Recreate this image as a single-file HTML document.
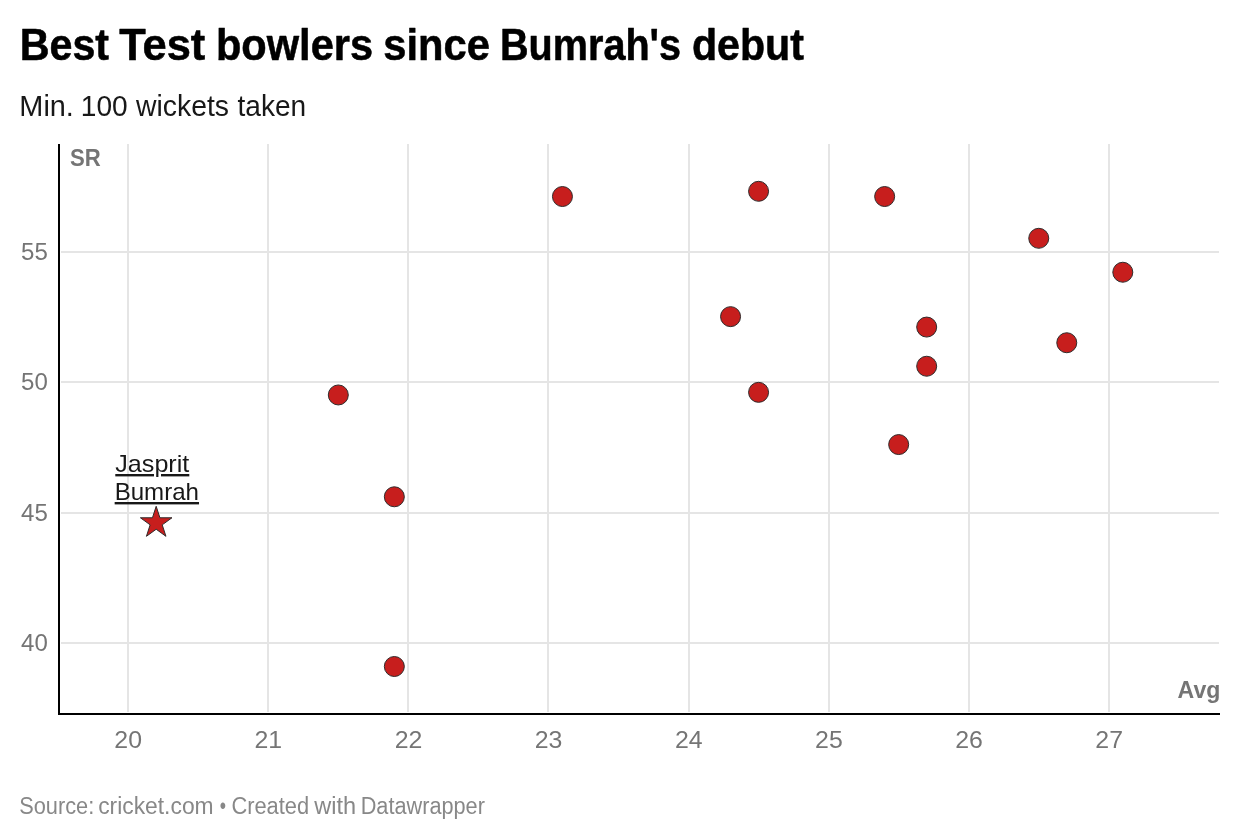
<!DOCTYPE html>
<html lang="en">
<head>
<meta charset="utf-8">
<title>Best Test bowlers since Bumrah's debut</title>
<style>
html,body{margin:0;padding:0;background:#fff;}
body{width:1240px;height:840px;overflow:hidden;font-family:"Liberation Sans",sans-serif;}
svg{display:block;will-change:transform;}
text{font-family:"Liberation Sans",sans-serif;}
.title{font-weight:700;font-size:45.2px;fill:#000;stroke:#000;stroke-width:0.55px;stroke-linejoin:round;}
.sub{font-size:28.8px;fill:#181818;}
.tick{font-size:24px;fill:#757575;}
.axl{font-size:24.5px;font-weight:700;fill:#757575;}
.lab{font-size:24px;fill:#181818;}
.foot{font-size:23px;fill:#888;}
.grid{fill:#e5e5e5;}
.pt{fill:#c71e1d;stroke:#2f2b2b;stroke-width:1;}
</style>
</head>
<body>
<svg width="1240" height="840" viewBox="0 0 1240 840">
<rect width="1240" height="840" fill="#ffffff"/>
<text class="title" y="60"><tspan x="19.81" textLength="89.28" lengthAdjust="spacingAndGlyphs">Best</tspan> <tspan x="119.18" textLength="86.07" lengthAdjust="spacingAndGlyphs">Test</tspan> <tspan x="215.98" textLength="157.13" lengthAdjust="spacingAndGlyphs">bowlers</tspan> <tspan x="383.22" textLength="106.62" lengthAdjust="spacingAndGlyphs">since</tspan> <tspan x="500.02" textLength="181.02" lengthAdjust="spacingAndGlyphs">Bumrah's</tspan> <tspan x="691.92" textLength="112.06" lengthAdjust="spacingAndGlyphs">debut</tspan></text>
<text class="sub" y="116"><tspan x="19.32" textLength="54.59" lengthAdjust="spacingAndGlyphs">Min.</tspan> <tspan x="80.77" textLength="46.92" lengthAdjust="spacingAndGlyphs">100</tspan> <tspan x="136.06" textLength="93.00" lengthAdjust="spacingAndGlyphs">wickets</tspan> <tspan x="237.53" textLength="68.69" lengthAdjust="spacingAndGlyphs">taken</tspan></text>
<g class="grid">
<rect x="127" y="144" width="2" height="568"/>
<rect x="267" y="144" width="2" height="568"/>
<rect x="407" y="144" width="2" height="568"/>
<rect x="547" y="144" width="2" height="568"/>
<rect x="688" y="144" width="2" height="568"/>
<rect x="828" y="144" width="2" height="568"/>
<rect x="968" y="144" width="2" height="568"/>
<rect x="1108" y="144" width="2" height="568"/>
<rect x="61" y="251" width="1158" height="2"/>
<rect x="61" y="381" width="1158" height="2"/>
<rect x="61" y="512" width="1158" height="2"/>
<rect x="61" y="642" width="1158" height="2"/>
</g>
<rect x="58" y="144" width="2" height="571" fill="#000"/>
<rect x="58" y="713" width="1162" height="2" fill="#000"/>
<text class="tick" x="21.01" y="259.6" textLength="26.76" lengthAdjust="spacingAndGlyphs">55</text>
<text class="tick" x="21.01" y="389.6" textLength="26.76" lengthAdjust="spacingAndGlyphs">50</text>
<text class="tick" x="21.01" y="520.6" textLength="26.76" lengthAdjust="spacingAndGlyphs">45</text>
<text class="tick" x="21.01" y="650.6" textLength="26.76" lengthAdjust="spacingAndGlyphs">40</text>
<text class="tick" x="114.37" y="748" textLength="27.67" lengthAdjust="spacingAndGlyphs">20</text>
<text class="tick" x="254.51" y="748" textLength="27.67" lengthAdjust="spacingAndGlyphs">21</text>
<text class="tick" x="394.65" y="748" textLength="27.67" lengthAdjust="spacingAndGlyphs">22</text>
<text class="tick" x="534.79" y="748" textLength="27.67" lengthAdjust="spacingAndGlyphs">23</text>
<text class="tick" x="674.93" y="748" textLength="27.67" lengthAdjust="spacingAndGlyphs">24</text>
<text class="tick" x="815.07" y="748" textLength="27.67" lengthAdjust="spacingAndGlyphs">25</text>
<text class="tick" x="955.21" y="748" textLength="27.67" lengthAdjust="spacingAndGlyphs">26</text>
<text class="tick" x="1095.35" y="748" textLength="27.67" lengthAdjust="spacingAndGlyphs">27</text>
<text class="axl" y="165.5"><tspan x="69.92" textLength="30.76" lengthAdjust="spacingAndGlyphs">SR</tspan></text>
<text class="axl" y="698"><tspan x="1177.58" textLength="42.80" lengthAdjust="spacingAndGlyphs">Avg</tspan></text>
<g class="pt">
<circle cx="338.30" cy="394.96" r="10"/>
<circle cx="394.34" cy="496.78" r="10"/>
<circle cx="394.34" cy="666.50" r="10"/>
<circle cx="562.44" cy="196.52" r="10"/>
<circle cx="758.57" cy="191.30" r="10"/>
<circle cx="884.65" cy="196.52" r="10"/>
<circle cx="1038.75" cy="238.30" r="10"/>
<circle cx="1122.80" cy="272.24" r="10"/>
<circle cx="730.55" cy="316.63" r="10"/>
<circle cx="926.68" cy="327.07" r="10"/>
<circle cx="1066.77" cy="342.74" r="10"/>
<circle cx="926.68" cy="366.24" r="10"/>
<circle cx="758.57" cy="392.35" r="10"/>
<circle cx="898.66" cy="444.56" r="10"/>
<polygon points="156.18,506.29 159.91,517.77 171.97,517.77 162.21,524.85 165.94,536.32 156.18,529.24 146.43,536.32 150.15,524.85 140.40,517.77 152.46,517.77"/>
</g>
<text class="lab" y="472" text-decoration="underline"><tspan x="115.31" textLength="74.01" lengthAdjust="spacingAndGlyphs">Jasprit</tspan></text>
<text class="lab" y="500" text-decoration="underline"><tspan x="114.67" textLength="84.37" lengthAdjust="spacingAndGlyphs">Bumrah</tspan></text>
<text class="foot" y="813.6"><tspan x="19.24" textLength="75.00" lengthAdjust="spacingAndGlyphs">Source:</tspan> <tspan x="98.14" textLength="115.50" lengthAdjust="spacingAndGlyphs">cricket.com</tspan> <tspan x="219.79" textLength="6.26" lengthAdjust="spacingAndGlyphs">•</tspan> <tspan x="231.39" textLength="77.77" lengthAdjust="spacingAndGlyphs">Created</tspan> <tspan x="314.29" textLength="41.89" lengthAdjust="spacingAndGlyphs">with</tspan> <tspan x="360.66" textLength="124.24" lengthAdjust="spacingAndGlyphs">Datawrapper</tspan></text>
</svg>
</body>
</html>
